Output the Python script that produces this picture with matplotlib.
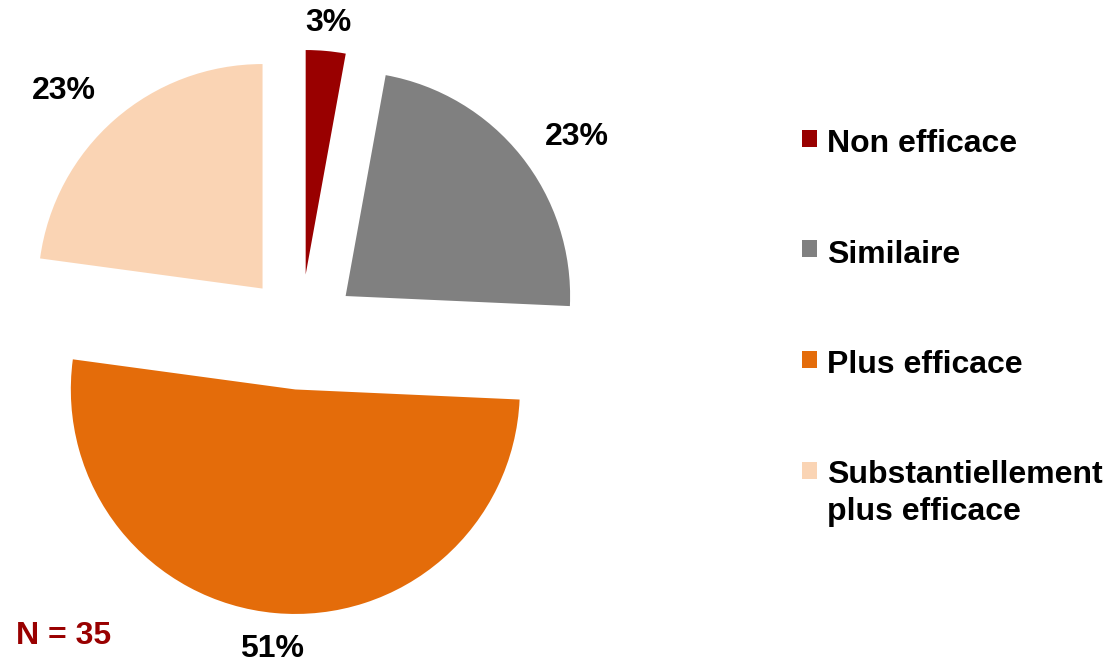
import numpy as np
import matplotlib
matplotlib.use("Agg")
import matplotlib.pyplot as plt
from matplotlib.patches import Rectangle

# answers (counts out of N = 35)
categories = ["Non efficace", "Similaire", "Plus efficace",
              "Substantiellement\nplus efficace"]
counts = [1, 8, 18, 8]
n_total = sum(counts)
colors = ["#990000", "#808080", "#E46C0A", "#FAD4B4"]

W, H = 1114, 663
fig = plt.figure(figsize=(W / 100, H / 100), dpi=100)
ax = fig.add_axes([0, 0, 1, 1])

# pie centre and radius in pixels
cx, cy, r = 300.5, 332.0, 224.5
explode = 0.257

wedges, _ = ax.pie(counts, colors=colors, startangle=90, counterclock=False,
                   explode=[explode] * len(counts),
                   wedgeprops=dict(linewidth=0))

ax.set_aspect("auto")
ax.set_xlim(-cx / r, (W - cx) / r)
ax.set_ylim(-(H - cy) / r, cy / r)
ax.axis("off")

font = dict(family=["Liberation Sans", "DejaVu Sans"], weight="bold")
fsize = 23

# percentage labels around each wedge
label_dist = [1.125, 1.25, 1.16, 1.25]
label_turn = [0, 4, 0, -4]
for w, c, d, t in zip(wedges, counts, label_dist, label_turn):
    mid = np.deg2rad((w.theta1 + w.theta2) / 2)
    ex, ey = explode * np.cos(mid), explode * np.sin(mid)
    a = mid - np.deg2rad(t)
    ax.text(ex + d * np.cos(a), ey + d * np.sin(a),
            "{:.0f}%".format(100 * c / n_total),
            ha="center", va="center", fontsize=fsize, color="black", **font)

# legend on the right
def fx(x):
    return x / W


def fy(y):
    return 1 - y / H


sq_top = [130, 239.5, 351, 461.5]
baselines = [151.7, 263, 373, 483]
for lab, col, top, base in zip(categories, colors, sq_top, baselines):
    fig.add_artist(Rectangle((fx(802), fy(top + 17)), 15 / W, 17 / H,
                             transform=fig.transFigure, facecolor=col,
                             edgecolor="none"))
    for i, line in enumerate(lab.split("\n")):
        fig.text(fx(827), fy(base + i * 37), line, ha="left", va="baseline",
                 fontsize=fsize, color="black", **font)

fig.text(fx(16), fy(644.3), "N = {}".format(n_total), ha="left",
         va="baseline", fontsize=fsize, color="#990000", **font)

fig.savefig("out.png", dpi=100, facecolor="white")
